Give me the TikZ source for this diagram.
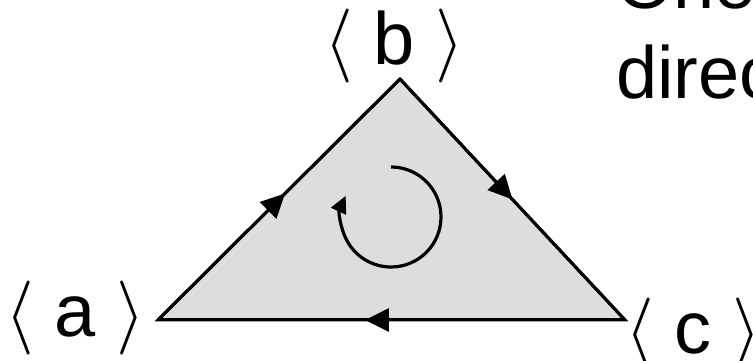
\RequirePackage{fix-cm}
\documentclass[tikz,border=0pt]{standalone}
\usepackage{fontspec}
\setmainfont{Liberation Sans}
\usetikzlibrary{arrows.meta,decorations.markings}
\definecolor{fillgray}{RGB}{221,221,221}
\tikzset{
  edge/.style={line width=3pt},
  midarrow/.style={postaction={decorate},decoration={markings,
    mark=at position #1 with {\arrow{Triangle[length=24pt,width=23pt]}}}},
  lbl/.style={inner sep=0pt,anchor=base west,font=\fontsize{74}{89}\selectfont},
}
\begin{document}
\begin{tikzpicture}[x=1pt,y=1pt]
\useasboundingbox (0,0) rectangle (753,361);
\coordinate (a) at (158,41);
\coordinate (b) at (400,282);
\coordinate (c) at (625,41);
\coordinate (o) at (391,144);
\fill[fillgray] (a) -- (b) -- (c) -- cycle;
\draw[edge,midarrow=0.525] (a) -- (b);
\draw[edge,midarrow=0.5] (b) -- (c);
\draw[edge,midarrow=0.557] (c) -- (a);
\draw[edge,line join=miter] (a) -- (b) -- (c) -- cycle;
\draw[line width=3.2pt,-{Triangle[length=17pt,width=16pt]}] ([shift={(90:50)}]o) arc[start angle=90,end angle=-205,radius=50];
\node[lbl] (la) at (5,24) {$\langle$ a $\rangle$};
\node[lbl] (lb) at (324,296) {$\langle$ b $\rangle$};
\node[lbl] (lc) at (625,7) {$\langle$ c $\rangle$};
\node[lbl] (t1) at (616,352) {One};
\node[lbl] (t2) at (616,262) {direc};
\end{tikzpicture}
\end{document}
